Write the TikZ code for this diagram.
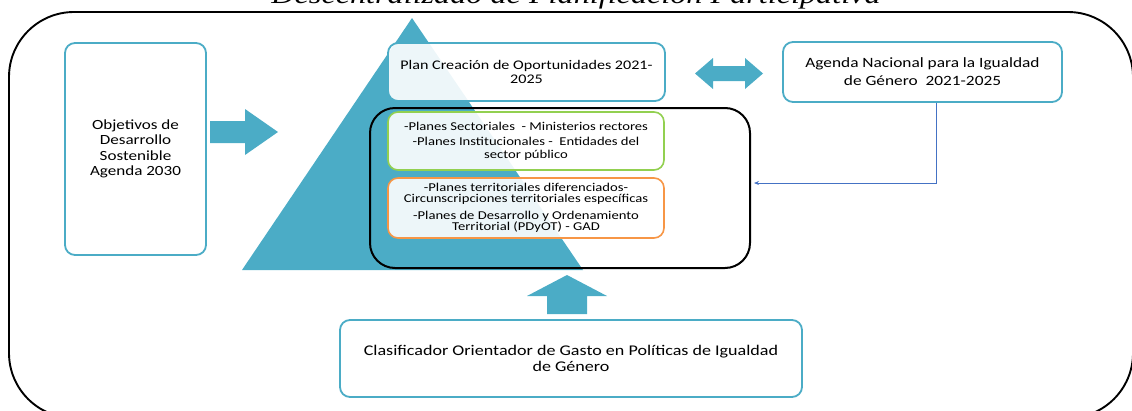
\documentclass[tikz,border=0pt]{standalone}
\usepackage{fontspec}
\setmainfont{Carlito}[FakeStretch=1.22]
\newfontfamily\titlefont{Liberation Serif}[FakeStretch=1.22]
\usetikzlibrary{arrows.meta}

\definecolor{tealc}{HTML}{4BACC6}
\definecolor{greenc}{HTML}{92D050}
\definecolor{orangec}{HTML}{F79646}
\definecolor{bluec}{HTML}{4472C4}

\tikzset{
  planbox/.style={draw=tealc, line width=1.8pt, rounded corners=10pt,
    fill=white, fill opacity=.9, text opacity=1, align=center,
    inner sep=0pt},
  levelbox/.style={planbox, line width=1.6pt},
  bigarrow/.style={fill=tealc}
}

\begin{document}
\begin{tikzpicture}[x=1pt,y=-1pt]
  \useasboundingbox (0,0) rectangle (1132,410);

  % Outer frame and title
  \draw[line width=1.9pt, rounded corners=65pt] (9,12) rectangle (1133,418);
  \node[anchor=base, font=\titlefont\itshape\fontsize{26.4}{29}\selectfont] (title) at (576,3)
    {Descentralizado de Planificación Participativa};

  % The pyramid
  \fill[tealc] (412,18) -- (583,270) -- (242,270) -- cycle;

  % Left box
  \node[planbox, minimum width=141pt, minimum height=212pt,
        font=\fontsize{14}{15.5}\selectfont] (ods) at (135.5,149)
    {Objetivos de\\Desarrollo\\Sostenible\\Agenda 2030};

  % Arrow to the right
  \fill[bigarrow] (210,121) -- (245,121) -- (245,109) -- (278,132)
     -- (245,155) -- (245,143) -- (210,143) -- cycle;

  % Top boxes
  \node[planbox, minimum width=277pt, minimum height=58pt,
        font=\fontsize{13.2}{13.5}\selectfont] (plan) at (526.5,72)
    {Plan Creación de Oportunidades 2021-\\2025};
  \node[planbox, minimum width=279pt, minimum height=60pt,
        font=\fontsize{14.2}{18}\selectfont] (agenda) at (922.5,72)
    {Agenda Nacional para la Igualdad\\de Género\ \ 2021-2025};

  % Double arrow between them
  \fill[bigarrow] (695,73.5) -- (713,58) -- (713,66) -- (745,66) -- (745,58)
     -- (763,73.5) -- (745,89) -- (745,81) -- (713,81) -- (713,89) -- cycle;

  % Black frame with the two levels
  \node[draw, line width=2pt, rounded corners=25pt, minimum width=380pt,
        minimum height=160pt] (frame) at (560,188) {};
  \node[levelbox, draw=greenc, minimum width=276pt, minimum height=58pt,
        font=\fontsize{12}{12.5}\selectfont] (green) at (526,141)
    {-Planes Sectoriales\ \ - Ministerios rectores\\[3pt]
     -Planes Institucionales -\ \ Entidades del\\sector público};
  \node[levelbox, draw=orangec, minimum width=276pt, minimum height=60pt,
        font=\fontsize{12}{11.5}\selectfont] (orange) at (526,208)
    {-Planes territoriales diferenciados-\\Circunscripciones territoriales específicas\\[5pt]
     -Planes de Desarrollo y Ordenamiento\\Territorial (PDyOT) - GAD};

  % Link from the agenda
  \draw[bluec, line width=0.8pt, -{Stealth[length=5pt,width=4pt]}]
    ([xshift=13.5pt]agenda.south) |- ([yshift=5pt,xshift=3pt]frame.east);

  % Arrow up
  \fill[bigarrow] (547,314) -- (547,296) -- (527,296) -- (567,275)
     -- (607,296) -- (587,296) -- (587,314) -- cycle;

  % Bottom box
  \node[planbox, minimum width=462pt, minimum height=77pt,
        font=\fontsize{14.8}{16.5}\selectfont] (gasto) at (571,358.5)
    {Clasificador Orientador de Gasto en Políticas de Igualdad\\de Género};
\end{tikzpicture}
\end{document}
